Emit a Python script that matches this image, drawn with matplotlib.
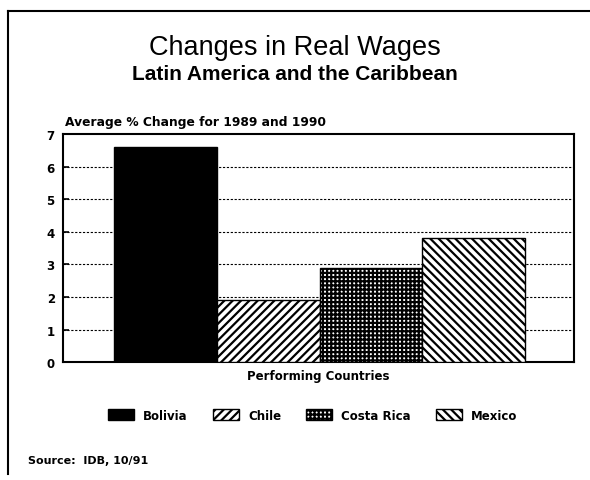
import numpy as np
import matplotlib
matplotlib.use('Agg')
from matplotlib import pyplot as plt
from matplotlib.lines import Line2D

# values
countries = ['Bolivia', 'Chile', 'Costa Rica', 'Mexico']
avg_change = [6.6, 1.9, 2.9, 3.8]
yticks = [0, 1, 2, 3, 4, 5, 6, 7]

colors = ['black', 'white', 'white', 'white']
hatches = [None, '////', '++++', '\\\\\\\\']

plt.rcParams['hatch.linewidth'] = 1.6
plt.rcParams['font.family'] = ['DejaVu Sans']

fig = plt.figure(figsize=(5.9, 4.81), dpi=100)
ax = fig.add_axes([0.107, 0.245, 0.866, 0.474])

x = np.arange(len(countries))
bars = ax.bar(x, avg_change, width=1.0, color=colors, edgecolor='black',
              linewidth=1.0, zorder=3, label=countries)
for b, h in zip(bars, hatches):
    if h:
        b.set_hatch(h)

ax.set_xlim(-1.0, 3.98)
ax.set_ylim(0, 7)
ax.set_yticks(yticks)
ax.set_xticks([])
for t in yticks[1:-1]:
    ax.axhline(t, color='black', ls=(0, (2, 1.5)), lw=0.8, zorder=1)
for s in ax.spines.values():
    s.set_linewidth(1.5)
ax.tick_params(axis='y', direction='in', length=4, width=1.2, pad=6, labelsize=8.5)
for lb in ax.get_yticklabels():
    lb.set_fontweight('bold')

ax.set_xlabel('Performing Countries', fontsize=8.5, fontweight='bold', labelpad=5)
ax.text(0.003, 1.025, 'Average % Change for 1989 and 1990', transform=ax.transAxes,
        fontsize=8.8, fontweight='bold', ha='left', va='bottom')

fig.text(0.5, 0.90, 'Changes in Real Wages', fontsize=19.5, ha='center', va='center',
         family='Liberation Sans')
fig.text(0.5, 0.845, 'Latin America and the Caribbean', fontsize=15, fontweight='bold',
         ha='center', va='center', family='Liberation Sans')

fig.legend(handles=bars, labels=countries, loc='center', bbox_to_anchor=(0.53, 0.135),
           ncol=4, frameon=False, handlelength=2.2, handleheight=1.1,
           columnspacing=2.1, handletextpad=0.8,
           prop={'weight': 'bold', 'size': 8.5})

fig.text(0.047, 0.042, 'Source:  IDB, 10/91', fontsize=8, fontweight='bold',
         ha='left', va='center')

# page frame from the scan (left and top edges only)
fig.add_artist(Line2D([0.014, 0.014], [0.012, 0.975], color='black', lw=1.5))
fig.add_artist(Line2D([0.014, 1.0], [0.975, 0.975], color='black', lw=1.5))

fig.savefig('out.png', dpi=100)
